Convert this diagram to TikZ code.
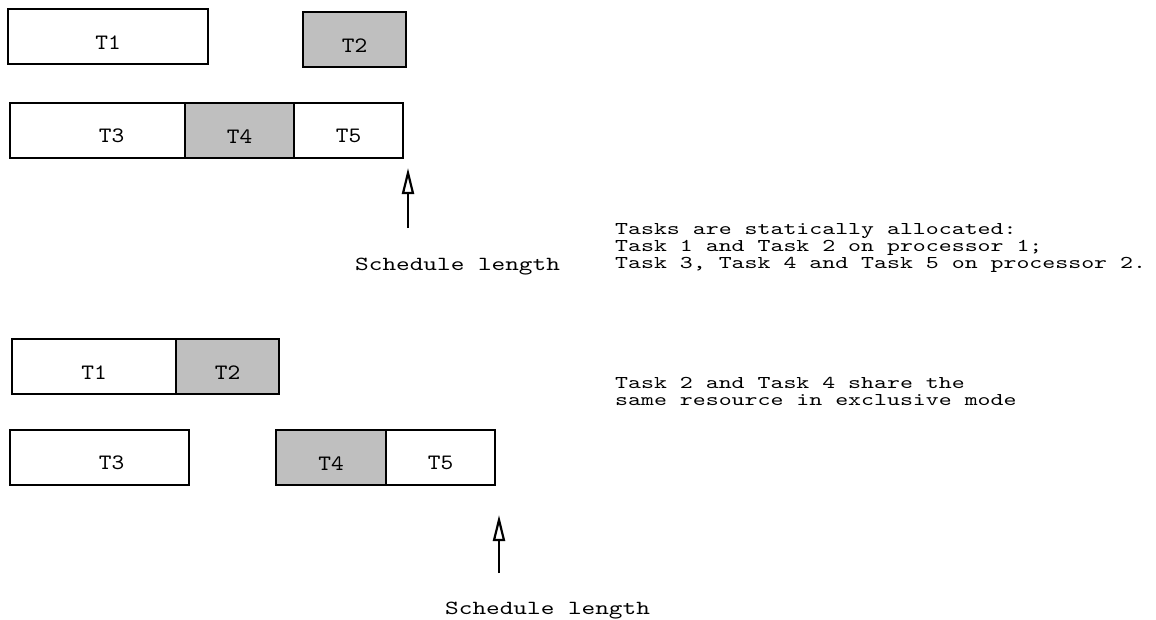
\documentclass[tikz,border=0pt]{standalone}
\usepackage{fontspec}
\usetikzlibrary{positioning,arrows.meta}
\newfontfamily\taskfont{lmmono10-regular.otf}[FakeStretch=1.1]
\newfontfamily\notefont{lmmono10-regular.otf}[FakeStretch=1.37]
\newfontfamily\lenfont{lmmono10-regular.otf}[FakeStretch=1.3]
\tikzset{
  taskbox/.style={draw,line width=2.5pt,minimum height=55pt,inner sep=0pt,
    outer sep=0pt,anchor=north west,font=\taskfont\fontsize{22}{22}\selectfont,
    text height=25pt},
  shared/.style={fill=black!25},
  tasklabel/.style={font=\taskfont\fontsize{22}{22}\selectfont,text height=25pt,
    inner sep=0pt},
  note/.style={font=\notefont\fontsize{18}{17}\selectfont,align=left,
    inner sep=0pt,anchor=west},
  lentext/.style={font=\lenfont\fontsize{20}{20}\selectfont,inner sep=0pt,
    anchor=base west},
  lenarrow/.style={line width=2.2pt,-{Triangle[open,length=26pt,width=12pt]}}
}
\begin{document}
\begin{tikzpicture}[x=1pt,y=-1pt]
  \useasboundingbox (0,0) rectangle (1156,619);
  \node[taskbox,minimum width=200pt] (t1a) at (8,9) {T1};
  \node[taskbox,shared,minimum width=103pt] (t2a) at (303,12) {T2};
  \node[taskbox,minimum width=175pt,label={[tasklabel,xshift=14pt]center:T3}]
    (t3a) at (10,103) {};
  \node[taskbox,shared,minimum width=109pt,right=0pt of t3a] (t4a) {T4};
  \node[taskbox,minimum width=109pt,right=0pt of t4a] (t5a) {T5};
  \node[taskbox,minimum width=164pt] (t1b) at (12,339) {T1};
  \node[taskbox,shared,minimum width=103pt,right=0pt of t1b] (t2b) {T2};
  \node[taskbox,minimum width=179pt,label={[tasklabel,xshift=12pt]center:T3}]
    (t3b) at (10,430) {};
  \node[taskbox,shared,minimum width=110pt,right=87pt of t3b] (t4b) {T4};
  \node[taskbox,minimum width=109pt,right=0pt of t4b] (t5b) {T5};
  \node[note] (alloc) at (615,248) {Tasks are statically allocated:\\
    Task 1 and Task 2 on processor 1;\\
    Task 3, Task 4 and Task 5 on processor 2.};
  \node[note] (excl) at (615,391) {Task 2 and Task 4 share the\\
    same resource in exclusive mode};
  \node[lentext] (lena) at (355,270) {Schedule length};
  \node[lentext] (lenb) at (445,614) {Schedule length};
  \coordinate (foota) at (408,228);
  \coordinate (tipa) at (408,168);
  \coordinate (footb) at (499,573);
  \coordinate (tipb) at (499,515);
  \draw[lenarrow] (foota) -- (tipa);
  \draw[lenarrow] (footb) -- (tipb);
\end{tikzpicture}
\end{document}
